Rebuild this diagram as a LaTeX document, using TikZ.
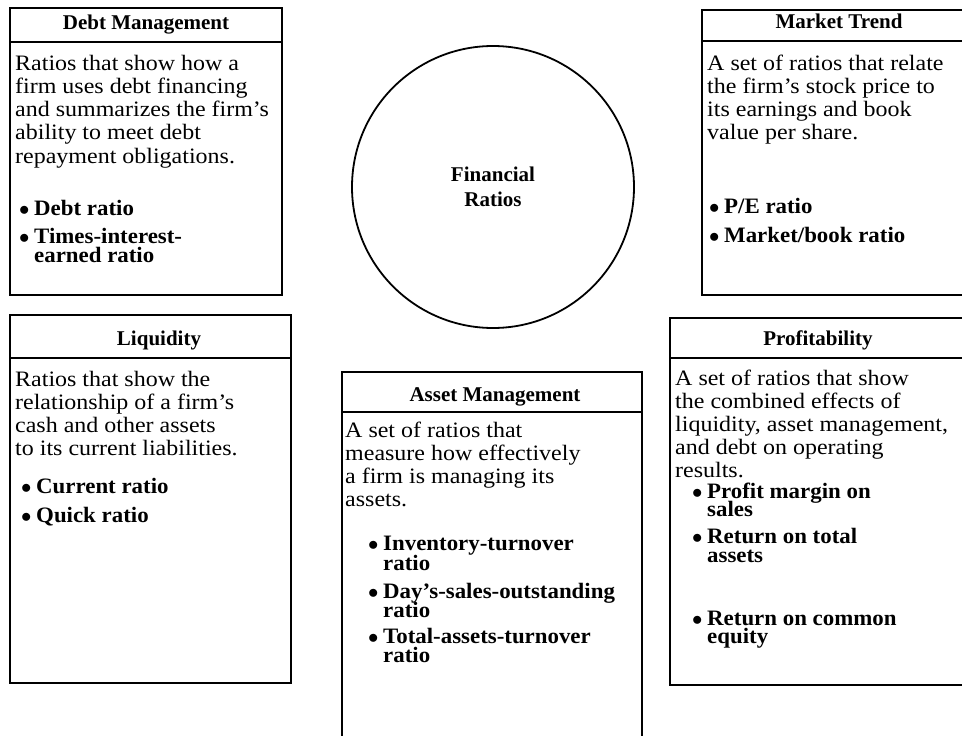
\documentclass[tikz,border=0pt]{standalone}
\usepackage{fontspec}
\setmainfont{Liberation Serif}
\newfontfamily\bodyfont[FakeStretch=1.09]{Liberation Serif}
\newfontfamily\itemfont[FakeStretch=1.04]{Liberation Serif}
\newcommand\mylines[2]{\vtop{\baselineskip=#1\lineskiplimit=-100pt\lineskip=0pt #2}}
\newcommand\bul{\makebox[15pt][l]{$\bullet$}}
\begin{document}
\begin{tikzpicture}[x=1pt,y=-1pt,
  boxline/.style={line width=1.8pt},
  divline/.style={line width=1.3pt},
  hdr/.style={font=\fontsize{21}{23}\selectfont\bfseries, anchor=base, inner sep=0pt},
  body/.style={font=\bodyfont\fontsize{22}{23.3}\selectfont, anchor=base west, inner sep=0pt},
  itm/.style={font=\itemfont\fontsize{22}{19}\selectfont\bfseries, anchor=base west, inner sep=0pt}]
\useasboundingbox (0,0) rectangle (962,736);
\clip (0,0) rectangle (962,736);
\fill[white] (0,0) rectangle (962,736);

% Debt Management
\draw[boxline] (10,8) rectangle (282,295);
\draw[divline] (10,42) -- (282,42);
\node[hdr] (dh) at (146,29) {Debt Management};
\node[body] (dt) at (15,70) {\mylines{23.3pt}{\hbox{Ratios that show how a}\hbox{firm uses debt financing}\hbox{and summarizes the firm’s}\hbox{ability to meet debt}\hbox{repayment obligations.}}};
\node[itm] (d1) at (19,215) {\bul Debt ratio};
\node[itm] (d2) at (19,243) {\bul\mylines{19pt}{\hbox{Times-interest-}\hbox{earned ratio}}};

% Market Trend
\draw[boxline] (702,10) rectangle (990,295);
\draw[divline] (702,41) -- (990,41);
\node[hdr] (mh) at (839,28) {Market Trend};
\node[body] (mt) at (707,70) {\mylines{23.3pt}{\hbox{A set of ratios that relate}\hbox{the firm’s stock price to}\hbox{its earnings and book}\hbox{value per share.}}};
\node[itm] (m1) at (709,213) {\bul P/E ratio};
\node[itm] (m2) at (709,242) {\bul Market/book ratio};

% Liquidity
\draw[boxline] (10,315) rectangle (291,683);
\draw[divline] (10,358) -- (291,358);
\node[hdr] (lh) at (159,345) {Liquidity};
\node[body] (lt) at (15,386) {\mylines{23pt}{\hbox{Ratios that show the}\hbox{relationship of a firm’s}\hbox{cash and other assets}\hbox{to its current liabilities.}}};
\node[itm] (l1) at (21,493) {\bul Current ratio};
\node[itm] (l2) at (21,522) {\bul Quick ratio};

% Asset Management
\draw[boxline] (342,760) -- (342,372) -- (642,372) -- (642,760);
\draw[divline] (342,412) -- (642,412);
\node[hdr] (ah) at (495,401) {Asset Management};
\node[body] (at) at (345,437) {\mylines{23pt}{\hbox{A set of ratios that}\hbox{measure how effectively}\hbox{a firm is managing its}\hbox{assets.}}};
\node[itm] (a1) at (368,550) {\bul\mylines{20pt}{\hbox{Inventory-turnover}\hbox{ratio}}};
\node[itm] (a2) at (368,598) {\bul\mylines{19pt}{\hbox{Day’s-sales-outstanding}\hbox{ratio}}};
\node[itm] (a3) at (368,643) {\bul\mylines{19pt}{\hbox{Total-assets-turnover}\hbox{ratio}}};

% Profitability
\draw[boxline] (670,318) rectangle (990,685);
\draw[divline] (670,358) -- (990,358);
\node[hdr] (ph) at (818,345) {Profitability};
\node[body] (pt) at (675,385) {\mylines{23pt}{\hbox{A set of ratios that show}\hbox{the combined effects of}\hbox{liquidity, asset management,}\hbox{and debt on operating}\hbox{results.}}};
\node[itm] (p1) at (692,498) {\bul\mylines{18.5pt}{\hbox{Profit margin on}\hbox{sales}}};
\node[itm] (p2) at (692,543) {\bul\mylines{19pt}{\hbox{Return on total}\hbox{assets}}};
\node[itm] (p3) at (692,625) {\bul\mylines{18.5pt}{\hbox{Return on common}\hbox{equity}}};

% Circle
\node[circle, draw, line width=1.8pt, minimum size=282pt, inner sep=0pt, align=center,
  font=\fontsize{21}{25}\selectfont\bfseries] (fr) at (493,187) {Financial\\Ratios};
\end{tikzpicture}
\end{document}
